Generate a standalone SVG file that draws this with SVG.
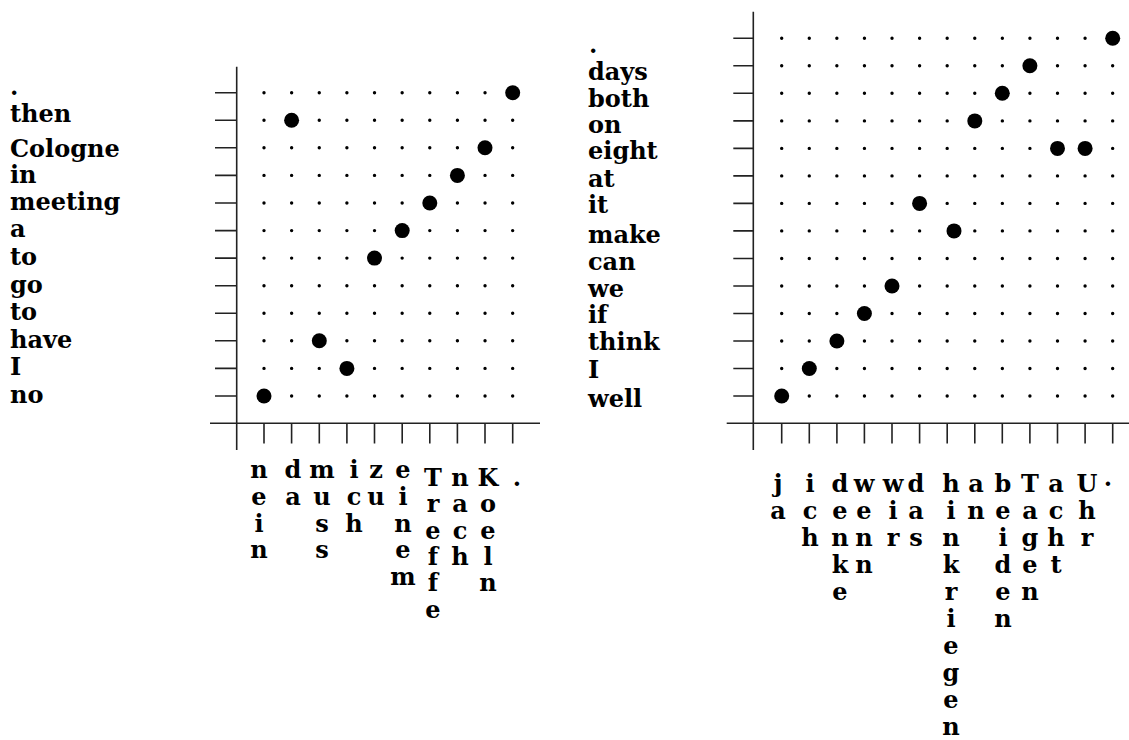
<svg xmlns="http://www.w3.org/2000/svg" width="1129" height="740" viewBox="0 0 1129 740">
<style>
.ax{stroke:#222;stroke-width:1.6;fill:none}
.sdl{stroke:#000;stroke-width:3.4;stroke-linecap:round;stroke-dasharray:0 27.63;fill:none}
.sdr{stroke:#000;stroke-width:3.4;stroke-linecap:round;stroke-dasharray:0 27.58;fill:none}
.bd{fill:#000}
text{font-family:"DejaVu Serif","Liberation Serif",serif;font-weight:bold;font-size:24px;fill:#000}
.cl{text-anchor:middle}
</style>
<rect width="1129" height="740" fill="#fff"/>

<g id="left-matrix">
  <g id="left-axes">
    <path class="ax" d="M236.7 66.7V450M210 423.3H540"/>
    <path class="ax" d="M215 92.7H236.7M215 120.3H236.7M215 147.8H236.7M215 175.4H236.7M215 203H236.7M215 230.6H236.7M215 258.1H236.7M215 285.7H236.7M215 313.3H236.7M215 340.8H236.7M215 368.4H236.7M215 396H236.7"/>
    <path class="ax" d="M264 423.3V443.5M291.6 423.3V443.5M319.3 423.3V443.5M346.9 423.3V443.5M374.5 423.3V443.5M402.2 423.3V443.5M429.8 423.3V443.5M457.4 423.3V443.5M485 423.3V443.5M512.7 423.3V443.5"/>
  </g>
  <g id="left-grid">
    <path class="sdl" d="M264 92.7H513.2M264 120.3H513.2M264 147.8H513.2M264 175.4H513.2M264 203H513.2M264 230.6H513.2M264 258.1H513.2M264 285.7H513.2M264 313.3H513.2M264 340.8H513.2M264 368.4H513.2M264 396H513.2"/>
  </g>
  <g id="left-alignments" class="bd">
    <circle cx="512.7" cy="92.7" r="7.5"/>
    <circle cx="291.6" cy="120.3" r="7.5"/>
    <circle cx="485" cy="147.8" r="7.5"/>
    <circle cx="457.4" cy="175.4" r="7.5"/>
    <circle cx="429.8" cy="203" r="7.5"/>
    <circle cx="402.2" cy="230.6" r="7.5"/>
    <circle cx="374.5" cy="258.1" r="7.5"/>
    <circle cx="319.3" cy="340.8" r="7.5"/>
    <circle cx="346.9" cy="368.4" r="7.5"/>
    <circle cx="264" cy="396" r="7.5"/>
  </g>
  <g id="left-row-labels">
    <text x="10" y="94.5">.</text>
    <text x="10" y="121.7">then</text>
    <text x="10" y="156.7">Cologne</text>
    <text x="10" y="183.3">in</text>
    <text x="10" y="210">meeting</text>
    <text x="10" y="236.7">a</text>
    <text x="10" y="265">to</text>
    <text x="10" y="293.3">go</text>
    <text x="10" y="320">to</text>
    <text x="10" y="348.3">have</text>
    <text x="10" y="375">I</text>
    <text x="10" y="403.3">no</text>
  </g>
  <g id="left-col-labels" class="cl">
    <text><tspan x="259" y="478">n</tspan><tspan x="259" y="504.8">e</tspan><tspan x="259" y="531.6">i</tspan><tspan x="259" y="558.4">n</tspan></text>
    <text><tspan x="293" y="478">d</tspan><tspan x="293" y="504.8">a</tspan></text>
    <text><tspan x="322" y="478">m</tspan><tspan x="322" y="504.8">u</tspan><tspan x="322" y="531.6">s</tspan><tspan x="322" y="558.4">s</tspan></text>
    <text><tspan x="354" y="478">i</tspan><tspan x="354" y="504.8">c</tspan><tspan x="354" y="531.6">h</tspan></text>
    <text><tspan x="376" y="478">z</tspan><tspan x="376" y="504.8">u</tspan></text>
    <text><tspan x="403" y="478">e</tspan><tspan x="403" y="504.8">i</tspan><tspan x="403" y="531.6">n</tspan><tspan x="403" y="558.4">e</tspan><tspan x="403" y="585.2">m</tspan></text>
    <text><tspan x="433" y="486">T</tspan><tspan x="433" y="512.3">r</tspan><tspan x="433" y="538.6">e</tspan><tspan x="433" y="564.9">f</tspan><tspan x="433" y="591.2">f</tspan><tspan x="433" y="617.5">e</tspan></text>
    <text><tspan x="460" y="486">n</tspan><tspan x="460" y="512.3">a</tspan><tspan x="460" y="538.6">c</tspan><tspan x="460" y="564.9">h</tspan></text>
    <text><tspan x="488" y="486">K</tspan><tspan x="488" y="512.3">o</tspan><tspan x="488" y="538.6">e</tspan><tspan x="488" y="564.9">l</tspan><tspan x="488" y="591.2">n</tspan></text>
    <text x="517" y="486">.</text>
  </g>
</g>

<g id="right-matrix">
  <g id="right-axes">
    <path class="ax" d="M753.3 11.7V450M726.7 423.3H1129"/>
    <path class="ax" d="M733.3 38.3H753.3M733.3 65.8H753.3M733.3 93.3H753.3M733.3 120.9H753.3M733.3 148.4H753.3M733.3 175.9H753.3M733.3 203.4H753.3M733.3 230.9H753.3M733.3 258.5H753.3M733.3 286H753.3M733.3 313.5H753.3M733.3 341H753.3M733.3 368.5H753.3M733.3 396H753.3"/>
    <path class="ax" d="M781.7 423.3V443.5M809.3 423.3V443.5M836.9 423.3V443.5M864.4 423.3V443.5M892 423.3V443.5M919.6 423.3V443.5M947.2 423.3V443.5M974.8 423.3V443.5M1002.3 423.3V443.5M1029.9 423.3V443.5M1057.5 423.3V443.5M1085.1 423.3V443.5M1112.7 423.3V443.5"/>
  </g>
  <g id="right-grid">
    <path class="sdr" d="M781.7 38.3H1113.2M781.7 65.8H1113.2M781.7 93.3H1113.2M781.7 120.9H1113.2M781.7 148.4H1113.2M781.7 175.9H1113.2M781.7 203.4H1113.2M781.7 230.9H920.1M974.8 230.9H1113.2M781.7 258.5H1113.2M781.7 286H1113.2M781.7 313.5H1113.2M781.7 341H1113.2M781.7 368.5H1113.2M781.7 396H1113.2"/>
  </g>
  <g id="right-alignments" class="bd">
    <circle cx="1112.7" cy="38.3" r="7.5"/>
    <circle cx="1029.9" cy="65.8" r="7.5"/>
    <circle cx="1002.3" cy="93.3" r="7.5"/>
    <circle cx="974.8" cy="120.9" r="7.5"/>
    <circle cx="1057.5" cy="148.4" r="7.5"/>
    <circle cx="1085.1" cy="148.4" r="7.5"/>
    <circle cx="919.6" cy="203.4" r="7.5"/>
    <circle cx="954" cy="230.9" r="7.5"/>
    <circle cx="892" cy="286" r="7.5"/>
    <circle cx="864.4" cy="313.5" r="7.5"/>
    <circle cx="836.9" cy="341" r="7.5"/>
    <circle cx="809.3" cy="368.5" r="7.5"/>
    <circle cx="781.7" cy="396" r="7.5"/>
  </g>
  <g id="right-row-labels">
    <text x="589" y="53">.</text>
    <text x="588" y="80">days</text>
    <text x="588" y="106.7">both</text>
    <text x="588" y="133">on</text>
    <text x="588" y="159.3">eight</text>
    <text x="588" y="186.7">at</text>
    <text x="588" y="213.3">it</text>
    <text x="588" y="243.3">make</text>
    <text x="588" y="270">can</text>
    <text x="588" y="296.7">we</text>
    <text x="588" y="323.3">if</text>
    <text x="588" y="350">think</text>
    <text x="588" y="378.3">I</text>
    <text x="588" y="406.7">well</text>
  </g>
  <g id="right-col-labels" class="cl">
    <text><tspan x="778" y="492">j</tspan><tspan x="778" y="519">a</tspan></text>
    <text><tspan x="810" y="492">i</tspan><tspan x="810" y="519">c</tspan><tspan x="810" y="546">h</tspan></text>
    <text><tspan x="840" y="492">d</tspan><tspan x="840" y="519">e</tspan><tspan x="840" y="546">n</tspan><tspan x="840" y="573">k</tspan><tspan x="840" y="600">e</tspan></text>
    <text><tspan x="864" y="492">w</tspan><tspan x="864" y="519">e</tspan><tspan x="864" y="546">n</tspan><tspan x="864" y="573">n</tspan></text>
    <text><tspan x="893" y="492">w</tspan><tspan x="893" y="519">i</tspan><tspan x="893" y="546">r</tspan></text>
    <text><tspan x="916" y="492">d</tspan><tspan x="916" y="519">a</tspan><tspan x="916" y="546">s</tspan></text>
    <text><tspan x="951" y="492">h</tspan><tspan x="951" y="519">i</tspan><tspan x="951" y="546">n</tspan><tspan x="951" y="573">k</tspan><tspan x="951" y="600">r</tspan><tspan x="951" y="627">i</tspan><tspan x="951" y="654">e</tspan><tspan x="951" y="681">g</tspan><tspan x="951" y="708">e</tspan><tspan x="951" y="735">n</tspan></text>
    <text><tspan x="976" y="492">a</tspan><tspan x="976" y="519">n</tspan></text>
    <text><tspan x="1003" y="492">b</tspan><tspan x="1003" y="519">e</tspan><tspan x="1003" y="546">i</tspan><tspan x="1003" y="573">d</tspan><tspan x="1003" y="600">e</tspan><tspan x="1003" y="627">n</tspan></text>
    <text><tspan x="1030" y="492">T</tspan><tspan x="1030" y="519">a</tspan><tspan x="1030" y="546">g</tspan><tspan x="1030" y="573">e</tspan><tspan x="1030" y="600">n</tspan></text>
    <text><tspan x="1056" y="492">a</tspan><tspan x="1056" y="519">c</tspan><tspan x="1056" y="546">h</tspan><tspan x="1056" y="573">t</tspan></text>
    <text><tspan x="1087" y="492">U</tspan><tspan x="1087" y="519">h</tspan><tspan x="1087" y="546">r</tspan></text>
    <text x="1108" y="485.5">.</text>
  </g>
</g>
</svg>
